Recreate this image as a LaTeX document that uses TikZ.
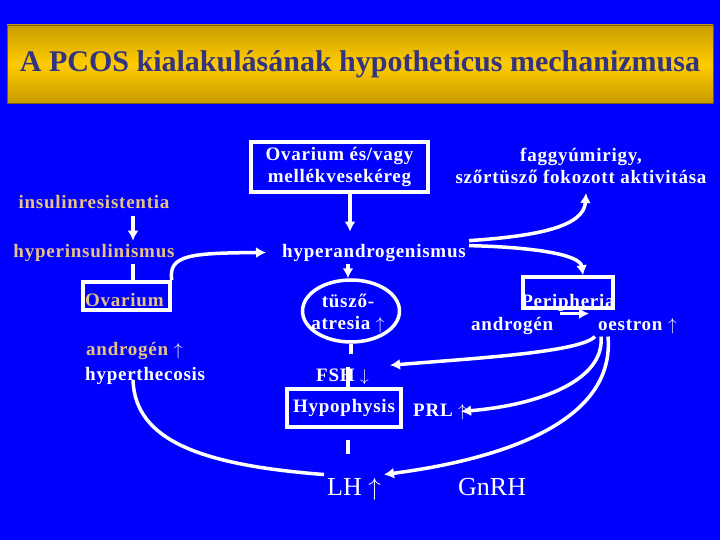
\documentclass[tikz,border=0pt]{standalone}
\usepackage{fontspec}
\setmainfont{Liberation Serif}
\newfontfamily\wideserif{Liberation Serif}[LetterSpace=4]
\usetikzlibrary{arrows.meta,positioning,shapes.geometric}
\definecolor{SlideBlue}{HTML}{0000FF}
\definecolor{GoldDark}{HTML}{C89B00}
\definecolor{GoldLight}{HTML}{FFCC00}
\definecolor{TitleInk}{HTML}{33337F}
\definecolor{Tan}{HTML}{E8C285}

\begin{document}
\begin{tikzpicture}[x=1pt,y=-1pt,>=Latex,
  lbl/.style={text=white,font=\wideserif\bfseries\fontsize{19}{22}\selectfont,inner sep=3pt},
  tanlbl/.style={lbl,text=Tan},
  wbox/.style={draw=white,line width=3.5pt},
  conn/.style={white,line width=3.5pt},
  arr/.style={conn,-{Latex[length=10pt,width=11pt]}}]
  \useasboundingbox (0,0) rectangle (720,540);
  \fill[SlideBlue] (0,0) rectangle (720,540);
  % title bar
  \node[draw=GoldDark!60!black,line width=0.8pt,top color=GoldDark,bottom color=GoldDark,middle color=GoldLight,
    minimum width=706pt,minimum height=78pt,text=TitleInk,font=\bfseries\fontsize{30}{36}\selectfont] (ttl) at (360,64)
    {A PCOS kialakulásának hypotheticus mechanizmusa};
  % upper row
  \node[lbl,wbox,align=center,minimum width=177pt,minimum height=50pt] (tb) at (339.5,167) {Ovarium és/vagy\\mellékvesekéreg};
  \node[lbl,align=center] (fg) at (581,166) {faggyúmirigy,\\szőrtüsző fokozott aktivitása};
  \node[tanlbl,anchor=base] (ir) at (94,209) {insulinresistentia};
  \node[tanlbl,anchor=base] (hi) at (94,257) {hyperinsulinismus};
  \node[lbl,anchor=base] (ha) at (374,257) {hyperandrogenismus};
  % middle row
  \node[wbox,minimum width=87pt,minimum height=28pt] (ovb) at (126.5,296) {};
  \node[tanlbl,anchor=base west] (ovt) at (82,306) {Ovarium};
  \node[wbox,ellipse,minimum width=97pt,minimum height=62pt,inner sep=0pt] (atr) at (351,311) {};
  \node[lbl,align=center] (atrt) at (348,313) {tüsző-\\atresia $\uparrow$};
  \node[wbox,minimum width=90pt,minimum height=31pt] (perb) at (568,292.5) {};
  \node[lbl,anchor=base] (pert) at (568,307) {Peripheria};
  \node[lbl,anchor=base west] (an2) at (468,330) {androgén};
  \node[lbl,anchor=base west] (oe) at (595,330) {oestron $\uparrow$};
  \node[lbl,anchor=base west] (an1) at (83,355) {\textcolor{Tan}{androgén} $\uparrow$};
  \node[lbl,anchor=base west] (hth) at (82,380) {hyperthecosis};
  \node[lbl,anchor=base west] (fsh) at (313,381) {FSH $\downarrow$};
  % lower row
  \node[lbl,wbox,minimum width=114pt,minimum height=38pt] (hyp) at (344,408) {Hypophysis};
  \node[lbl,anchor=base west] (prl) at (410,416) {PRL $\uparrow$};
  \node[lbl,font=\fontsize{26}{30}\selectfont,anchor=base west] (lh) at (324,495) {LH $\uparrow$};
  \node[lbl,font=\fontsize{26}{30}\selectfont,anchor=base west] (gn) at (455,495) {GnRH};
  % connectors
  \draw[arr,shorten <=4pt] ([xshift=39pt]ir.south) -- ([xshift=39pt]ir.south |- hi.north);
  \draw[conn] ([xshift=39pt]hi.south) -- ([xshift=39pt]hi.south |- ovb.north);
  \draw[arr] (ovb.north east) .. controls (168,255) and (190,253) .. ([xshift=-13pt]ha.west);
  \draw[arr,shorten >=9pt] ([xshift=10.5pt]tb.south) -- ([xshift=10.5pt]tb.south |- ha.north);
  \draw[arr] ([xshift=-26pt]ha.south) -- ([xshift=-3pt]atr.north);
  \draw[arr] (ha.north east) .. controls (540,236) and (584,226) .. ([xshift=5pt,yshift=-6pt]fg.south);
  \draw[arr] ([yshift=-5pt]ha.north east) .. controls (530,247) and (580,254) .. ([xshift=15pt]perb.north);
  \draw[arr,shorten <=4pt,shorten >=6pt] (an2.north east) -- (an2.north east -| oe.west);
  \draw[conn] (atr.south) -- ++(0,10);
  \draw[conn] ([xshift=4pt]hyp.north) -- ++(0,-20);
  \draw[conn] ([xshift=4pt,yshift=-11pt]hyp.south) -- ++(0,14);
  \draw[arr] (oe.south west) .. controls (580,352) and (480,358) .. ([xshift=18pt]fsh.north east);
  \draw[arr] ([xshift=6pt]oe.south west) .. controls (605,380) and (540,405) .. ([xshift=-9pt]prl.east);
  \draw[arr] ([xshift=13pt]oe.south west) .. controls (616,430) and (480,462) .. (lh.north east);
  \draw[conn] (lh.north west) .. controls (200,465) and (135,440) .. ([xshift=51pt]hth.base west);
\end{tikzpicture}
\end{document}
